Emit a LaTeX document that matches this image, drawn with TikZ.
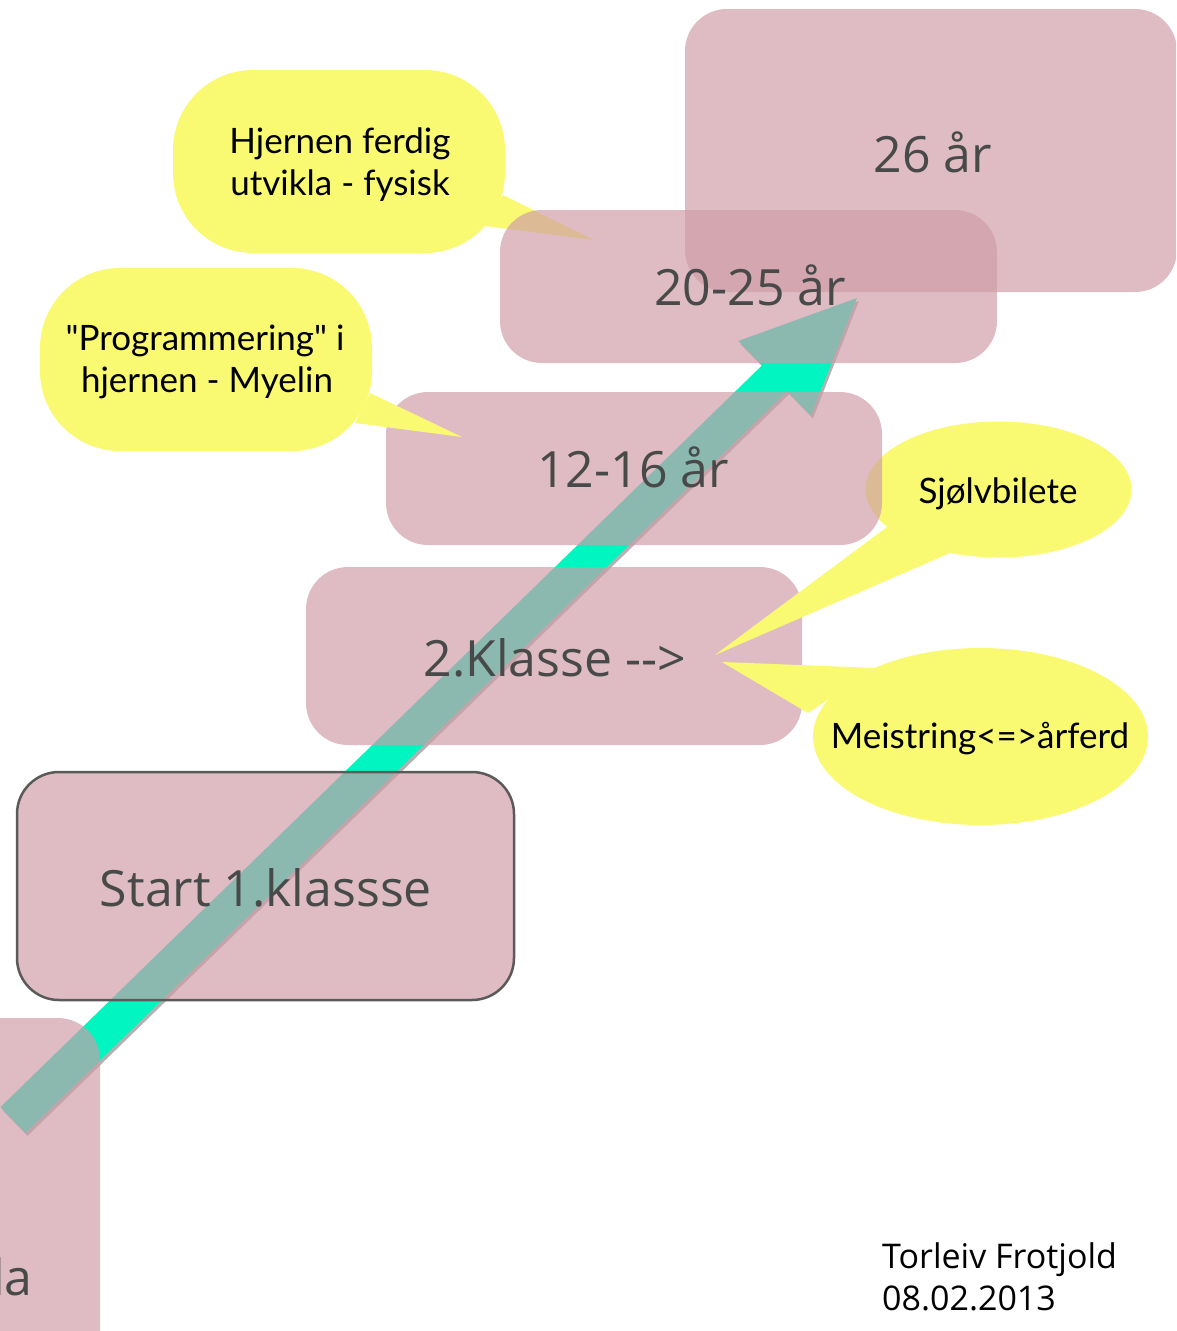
\documentclass[tikz,border=0pt]{standalone}
\usepackage{fontspec}
\newfontfamily\boxfont{Open Sans}
\newfontfamily\callfont{Lato}
\usetikzlibrary{calc,shapes.geometric}
\definecolor{pinkbox}{RGB}{207,156,167}
\definecolor{callyellow}{RGB}{250,250,114}
\definecolor{arrowcyan}{RGB}{0,245,192}
\definecolor{labelgray}{RGB}{72,74,74}
\definecolor{startborder}{RGB}{90,90,90}
\begin{document}
\begin{tikzpicture}[x=1pt,y=-1pt,
  agebox/.style={fill=pinkbox, fill opacity=0.675, rounded corners=42pt, inner sep=0pt, draw=none},
  agelabel/.style={font=\boxfont\fontsize{50}{54}\selectfont, text=labelgray, anchor=base, inner sep=0pt},
  callshape/.style={fill=callyellow, draw=none, inner sep=0pt},
  calltext/.style={font=\callfont\fontsize{35}{42}\selectfont, text=black, anchor=base, inner sep=0pt},
  foottext/.style={font=\boxfont\fontsize{34}{42}\selectfont, text=black, anchor=base west, inner sep=0pt},
]
\useasboundingbox (0,0) rectangle (1176,1331);
\clip (0,0) rectangle (1176,1331);

% ---------- growth arrow ----------
\coordinate (atail) at (13,1120);
\coordinate (atip) at (857,298);
\coordinate (abase) at ($(atip)!115pt!(atail)$);
\coordinate (at1) at ($(atail)!18pt!90:(atip)$);
\coordinate (at2) at ($(atail)!18pt!-90:(atip)$);
\coordinate (ab1) at ($(abase)!18pt!90:(atip)$);
\coordinate (ab2) at ($(abase)!18pt!-90:(atip)$);
\coordinate (ah1) at ($(abase)!52pt!90:(atip)$);
\coordinate (ah2) at ($(abase)!52pt!-90:(atip)$);
\fill[black!30, transform canvas={shift={(2pt,-3pt)}}]
  (at1) -- (ab1) -- (ah1) -- (atip) -- (ah2) -- (ab2) -- (at2) -- cycle;
\fill[arrowcyan] (at1) -- (ab1) -- (ah1) -- (atip) -- (ah2) -- (ab2) -- (at2) -- cycle;

% ---------- lower boxes ----------
\node[agebox, minimum width=170pt, minimum height=400pt] (bla) at (15,1218) {};
\node[agebox, draw=startborder, draw opacity=1, line width=2.5pt,
      minimum width=497pt, minimum height=228pt] (bstart) at (265.5,886) {};
\node[agebox, minimum width=496pt, minimum height=178pt] (bklasse) at (554,656) {};

% ---------- callout: Hjernen ferdig ----------
\node[callshape, rounded corners=80pt, minimum width=332pt, minimum height=183pt] (cHj) at (339,161.5) {};
\coordinate (cHjtip) at (594,240);
\fill[callyellow] (503,195) -- (cHjtip) -- (485,226) -- cycle;

% ---------- callouts: Sjoelvbilete / Meistring ----------
\node[callshape, ellipse, minimum width=266pt, minimum height=136pt] (cSj) at (998.5,489.5) {};
\coordinate (cSjtip) at (715,655);
\fill[callyellow] (887,527) -- (cSjtip) -- (950,553) -- cycle;
\node[callshape, ellipse, minimum width=335pt, minimum height=177pt] (cMe) at (980.5,736.5) {};
\coordinate (cMetip) at (722,662);
\fill[callyellow] (875,668) -- (cMetip) -- (808,713) -- cycle;

% ---------- 12-16 box ----------
\node[agebox, minimum width=496pt, minimum height=153pt] (b1216) at (634,468.5) {};

% ---------- callout: Programmering ----------
\node[callshape, rounded corners=80pt, minimum width=332pt, minimum height=183pt] (cPr) at (206,359.5) {};
\coordinate (cPrtip) at (462,437);
\fill[callyellow] (370,393) -- (cPrtip) -- (355,423) -- cycle;

% ---------- upper boxes ----------
\node[agebox, minimum width=497pt, minimum height=153pt] (b2025) at (748.5,286.5) {};
\node[agebox, minimum width=492pt, minimum height=283pt] (b26) at (931,150.5) {};

% ---------- box labels ----------
\node[agelabel] (l26) at (933,172) {26 år};
\node[agelabel] (l2025) at (750,305) {20-25 år};
\node[agelabel] (l1216) at (633,487) {12-16 år};
\node[agelabel] (lklasse) at (555,676) {2.Klasse -{}-{}>};
\node[agelabel] (lstart) at (266,906) {Start 1.klassse};
\node[agelabel, anchor=base west] (lla) at (-8,1295) {la};

% ---------- callout texts ----------
\node[calltext] (tHj1) at (340,153) {Hjernen ferdig};
\node[calltext] (tHj2) at (340,195) {utvikla - fysisk};
\node[calltext] (tPr1) at (205,350) {"Programmering" i};
\node[calltext] (tPr2) at (207,392) {hjernen - Myelin};
\node[calltext] (tSj) at (998,503) {Sjølvbilete};
\node[calltext] (tMe) at (980,748) {Meistring<=>årferd};

% ---------- footer ----------
\node[foottext] (fname) at (882,1268) {Torleiv Frotjold};
\node[foottext] (fdate) at (882,1310) {08.02.2013};
\end{tikzpicture}
\end{document}
